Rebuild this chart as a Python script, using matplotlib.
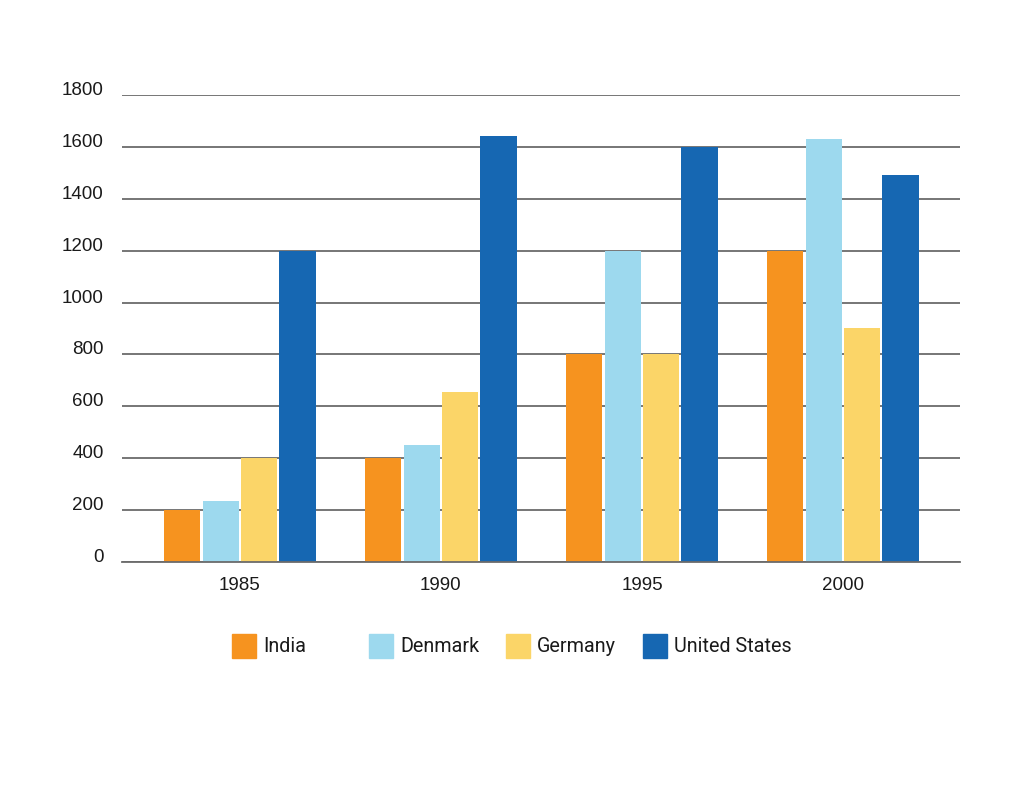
import numpy as np
import matplotlib.pyplot as plt
from matplotlib.patches import Rectangle

years = ["1985", "1990", "1995", "2000"]
countries = ["India", "Denmark", "Germany", "United States"]
india = [200, 400, 800, 1200]
denmark = [235, 450, 1200, 1630]
germany = [400, 655, 800, 900]
united_states = [1200, 1640, 1600, 1490]
yticks = [0, 200, 400, 600, 800, 1000, 1200, 1400, 1600, 1800]

colours = ["#F6931F", "#9DD9EE", "#FBD568", "#1667B2"]
series = [india, denmark, germany, united_states]

fig = plt.figure(figsize=(10.24, 8.08), dpi=100)
ax = fig.add_axes([0.119, 0.3045, 0.8185, 0.578])

x = np.arange(len(years))
step = 0.191
width = 0.18
for i, (vals, col) in enumerate(zip(series, colours)):
    ax.bar(x + (i - 1.5) * step, vals, width=width, color=col, zorder=3)

ax.set_xlim(-0.587, 3.582)
ax.set_ylim(0, 1800)
ax.set_yticks(yticks)
ax.set_xticks(x)
ax.set_xticklabels(years)
ax.grid(axis="y", color="#6b6b6b", linewidth=1.3, zorder=0)
for s in ["top", "right", "left"]:
    ax.spines[s].set_visible(False)
ax.spines["bottom"].set_color("#6b6b6b")
ax.spines["bottom"].set_linewidth(1.3)
ax.spines["bottom"].set_zorder(4)
ax.tick_params(axis="both", length=0, labelsize=13.5, labelcolor="#1a1a1a")
ax.tick_params(axis="y", pad=13)
ax.tick_params(axis="x", pad=11)
for lab in ax.get_xticklabels() + ax.get_yticklabels():
    lab.set_family("Liberation Sans")
for lab in ax.get_yticklabels():
    lab.set_verticalalignment("baseline")

# legend drawn by hand (fixed column spacing like the original)
leg_x = [232, 369, 506, 643]
for px, name, col in zip(leg_x, countries, colours):
    fig.patches.append(Rectangle((px / 1024, 1 - 658 / 808), 24 / 1024, 24 / 808,
                                 transform=fig.transFigure, color=col))
    fig.text((px + 31) / 1024, 1 - 647 / 808, name, family="Roboto",
             fontsize=14.2, color="#1a1a1a", va="center", ha="left")

fig.savefig("out.png", dpi=100, facecolor="white")
